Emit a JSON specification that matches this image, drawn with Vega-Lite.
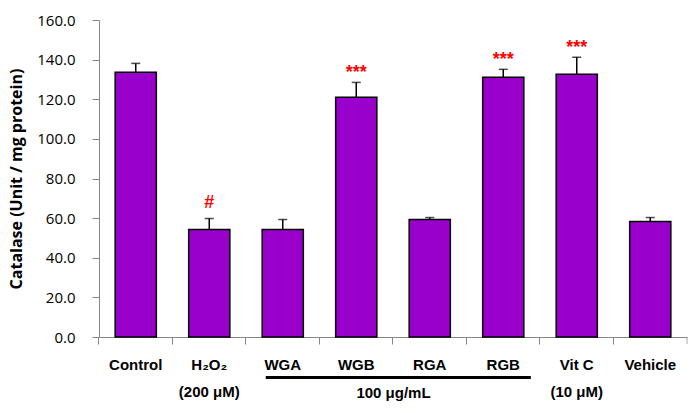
{
  "$schema": "https://vega.github.io/schema/vega-lite/v6.json",
  "width": 588,
  "height": 317,
  "autosize": "none",
  "padding": {"left": 99, "top": 20, "right": 11, "bottom": 76},
  "config": {
    "view": {"stroke": null},
    "background": "white",
    "axisY": {
      "labelOverlap": false,
      "tickCount": 10,
      "grid": false,
      "domainColor": "#868686",
      "tickColor": "#868686",
      "tickSize": 7,
      "labelFont": "Open Sans",
      "labelFontSize": 15,
      "labelColor": "black",
      "labelPadding": 17,
      "titleFont": "Open Sans",
      "titleFontWeight": "bold",
      "titleFontSize": 16,
      "titleColor": "black",
      "titlePadding": 12
    }
  },
  "data": {
    "values": [
      {"group": "Control", "mean": 133.6, "upper": 138.1, "sig": ""},
      {"group": "H₂O₂", "mean": 54.3, "upper": 59.8, "sig": "#"},
      {"group": "WGA", "mean": 54.3, "upper": 59.3, "sig": ""},
      {"group": "WGB", "mean": 121.0, "upper": 128.5, "sig": "***"},
      {"group": "RGA", "mean": 59.3, "upper": 60.3, "sig": ""},
      {"group": "RGB", "mean": 131.1, "upper": 135.1, "sig": "***"},
      {"group": "Vit C", "mean": 132.6, "upper": 141.2, "sig": "***"},
      {"group": "Vehicle", "mean": 58.3, "upper": 60.3, "sig": ""}
    ]
  },
  "encoding": {
    "x": {
      "field": "group",
      "type": "nominal",
      "sort": null,
      "scale": {
        "domain": ["Control", "H₂O₂", "WGA", "WGB", "RGA", "RGB", "Vit C", "Vehicle"],
        "paddingInner": 0.44,
        "paddingOuter": 0.22
      },
      "axis": {
        "bandPosition": -0.393,
        "domainColor": "#868686",
        "tickColor": "#868686",
        "tickSize": 7,
        "labelAngle": 0,
        "labelFont": "Liberation Sans",
        "labelFontWeight": "bold",
        "labelFontSize": 15,
        "labelColor": "black",
        "labelPadding": 13,
        "labelLineHeight": 27,
        "labelOverlap": false,
        "labelExpr": "datum.value == 'H₂O₂' ? ['H₂O₂', '(200 μM)'] : datum.value == 'Vit C' ? ['Vit C', '(10 μM)'] : datum.value",
        "title": "100 μg/mL",
        "titleFont": "Liberation Sans",
        "titleFontWeight": "bold",
        "titleFontSize": 15,
        "titleColor": "black",
        "titleBaseline": "middle",
        "titleY": 55
      }
    }
  },
  "layer": [
    {
      "mark": {"type": "bar", "fill": "#9900CC", "stroke": "black", "strokeWidth": 1.5},
      "encoding": {
        "y": {
          "field": "mean",
          "type": "quantitative",
          "scale": {"domain": [0, 160], "nice": false},
          "axis": {"values": [0, 20, 40, 60, 80, 100, 120, 140, 160], "tickCount": 10, "format": ".1f", "title": "Catalase (Unit / mg protein)"}
        }
      }
    },
    {
      "mark": {"type": "rule", "color": "black", "strokeWidth": 1.5},
      "encoding": {
        "y": {"field": "mean", "type": "quantitative", "axis": {"values": [0, 20, 40, 60, 80, 100, 120, 140, 160], "tickCount": 10, "format": ".1f", "title": "Catalase (Unit / mg protein)"}},
        "y2": {"field": "upper"}
      }
    },
    {
      "mark": {"type": "tick", "color": "black", "thickness": 1.5, "size": 9, "orient": "horizontal"},
      "encoding": {
        "y": {"field": "upper", "type": "quantitative", "axis": {"values": [0, 20, 40, 60, 80, 100, 120, 140, 160], "tickCount": 10, "format": ".1f", "title": "Catalase (Unit / mg protein)"}}
      }
    },
    {
      "transform": [{"filter": "datum.sig == '***'"}],
      "mark": {"type": "text", "color": "#FF0000", "font": "Liberation Sans", "fontWeight": "bold", "fontSize": 18, "baseline": "middle", "dy": -9},
      "encoding": {
        "y": {"field": "upper", "type": "quantitative", "axis": {"values": [0, 20, 40, 60, 80, 100, 120, 140, 160], "tickCount": 10, "format": ".1f", "title": "Catalase (Unit / mg protein)"}},
        "text": {"field": "sig"}
      }
    },
    {
      "transform": [{"filter": "datum.sig == '#'"}],
      "mark": {"type": "text", "color": "#FF0000", "font": "Liberation Sans", "fontWeight": "bold", "fontSize": 18, "baseline": "middle", "dy": -16},
      "encoding": {
        "y": {"field": "upper", "type": "quantitative", "axis": {"values": [0, 20, 40, 60, 80, 100, 120, 140, 160], "tickCount": 10, "format": ".1f", "title": "Catalase (Unit / mg protein)"}},
        "text": {"field": "sig"}
      }
    },
    {
      "data": {"values": [{"label": "100 μg/mL"}]},
      "mark": {"type": "rule", "color": "black", "strokeWidth": 3, "yOffset": 40.5},
      "encoding": {
        "x": {"datum": "WGA", "bandPosition": 0.087},
        "x2": {"datum": "RGB", "bandPosition": 1.17},
        "y": {"datum": 0, "type": "quantitative", "axis": {"values": [0, 20, 40, 60, 80, 100, 120, 140, 160], "tickCount": 10, "format": ".1f", "title": "Catalase (Unit / mg protein)"}}
      }
    },
    {
      "data": {"values": [{"label": "end"}]},
      "mark": {"type": "tick", "color": "#868686", "thickness": 1, "size": 7, "orient": "vertical", "yOffset": 3.5},
      "encoding": {
        "x": {"datum": "Vehicle", "bandPosition": 1.393},
        "y": {"datum": 0, "type": "quantitative", "axis": {"values": [0, 20, 40, 60, 80, 100, 120, 140, 160], "tickCount": 10, "format": ".1f", "title": "Catalase (Unit / mg protein)"}}
      }
    }
  ]
}
